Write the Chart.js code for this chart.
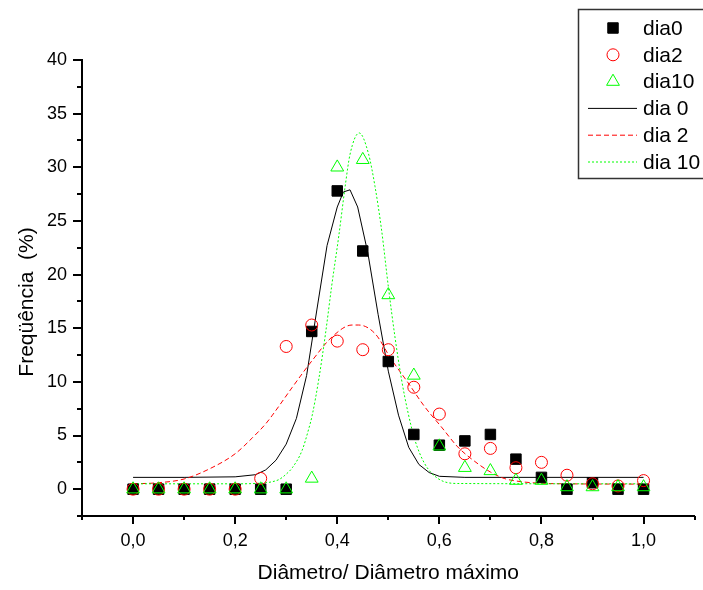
<!DOCTYPE html>
<html>
<head>
<meta charset="utf-8">
<title>Freqüência x Diâmetro</title>
<script src="https://cdn.jsdelivr.net/npm/chart.js@4.4.1/dist/chart.umd.min.js"></script>
<style>
  html, body { margin: 0; padding: 0; background: #fff; }
  .chart-wrap { width: 703px; height: 590px; }
</style>
</head>
<body>
<div class="chart-wrap"><canvas id="diameterChart" width="703" height="590"></canvas></div>
<script>
// Data ---------------------------------------------------------------------------
var diameters = [0, 0.05, 0.1, 0.15, 0.2, 0.25, 0.3, 0.35, 0.4, 0.45, 0.5,
  0.55, 0.6, 0.65, 0.7, 0.75, 0.8, 0.85, 0.9, 0.95, 1.0];
var dia0 = [0, 0, 0, 0, 0, 0, 0, 14.7, 27.8, 22.2, 11.9,
  5.1, 4.1, 4.5, 5.1, 2.8, 1.1, 0, 0.6, 0, 0];
var dia2 = [0, 0, 0, 0, 0, 1.0, 13.3, 15.3, 13.8, 13.0, 13.0,
  9.5, 7.0, 3.3, 3.8, 2.0, 2.5, 1.3, 0.5, 0.3, 0.8];
var dia10 = [0, 0, 0, 0, 0, 0, 0, 1.0, 30.0, 30.7, 18.1,
  10.6, 4.0, 2.0, 1.7, 0.8, 0.8, 0.2, 0.2, 0.2, 0.2];

// fitted curves
var fit0X = [0, 0.1, 0.2, 0.24, 0.26, 0.28, 0.3, 0.32, 0.34, 0.36, 0.38, 0.4, 0.412, 0.425,
  0.44, 0.46, 0.48, 0.5, 0.52, 0.54, 0.56, 0.58, 0.6, 0.65, 1.0];
var fit0Y = [1.1, 1.1, 1.15, 1.35, 1.8, 2.7, 4.2, 6.6, 10.6, 16.7, 22.7, 26.3, 27.7, 27.9,
  26.3, 22.0, 16.3, 11.0, 6.9, 3.9, 2.3, 1.55, 1.2, 1.1, 1.1];
var fit2X = [0, 0.05, 0.1, 0.15, 0.2, 0.234, 0.26, 0.273, 0.312, 0.351, 0.39, 0.429, 0.442,
  0.474, 0.506, 0.539, 0.571, 0.604, 0.636, 0.669, 0.7, 0.727, 0.76, 0.8, 0.85, 1.0];
var fit2Y = [0.5, 0.6, 0.95, 1.9, 3.3, 4.8, 6.1, 6.9, 9.5, 12.0, 14.2, 15.3, 15.3,
  14.5, 12.1, 9.9, 7.7, 5.8, 3.94, 2.6, 1.6, 1.0, 0.7, 0.55, 0.5, 0.47];
var fit10X = [0, 0.2, 0.26, 0.273, 0.286, 0.3, 0.312, 0.331, 0.344, 0.351, 0.364, 0.377,
  0.389, 0.403, 0.416, 0.425, 0.443, 0.461, 0.474, 0.487, 0.5, 0.513, 0.526, 0.539,
  0.552, 0.571, 0.597, 0.636, 1.0];
var fit10Y = [0.5, 0.5, 0.6, 0.7, 0.9, 1.4, 2.0, 3.6, 5.6, 6.9, 10.3, 14.5,
  18.9, 23.6, 28.4, 31.2, 33.2, 31.3, 28.2, 24.1, 18.9, 14.2, 10.2, 7.06,
  4.6, 2.4, 1.0, 0.53, 0.5];

// Ticks
var xMajorTicks = [0, 0.2, 0.4, 0.6, 0.8, 1.0];
var xMinorTicks = [-0.1, 0.1, 0.3, 0.5, 0.7, 0.9, 1.1];
var yMajorTicks = [0, 5, 10, 15, 20, 25, 30, 35, 40];
var yMinorTicks = [-2.5, 2.5, 7.5, 12.5, 17.5, 22.5, 27.5, 32.5, 37.5];

var FONT = 'Arial, "Liberation Sans", sans-serif';

function toPoints(xs, ys) {
  return xs.map(function (x, i) {
    return { x: x, y: ys[i] };
  });
}

// Axis ticks + y title
var axisExtras = {
  id: "axisExtras",
  afterDraw: function (chart) {
    var c = chart.ctx;
    var xs = chart.scales.x;
    var ys = chart.scales.y;
    var area = chart.chartArea;
    c.save();
    c.strokeStyle = "#000";
    c.lineWidth = 2;
    c.beginPath();
    xMajorTicks.concat(xMinorTicks).forEach(function (v) {
      var px = Math.round(xs.getPixelForValue(v));
      var len = xMajorTicks.indexOf(v) > -1 ? 8 : 4;
      c.moveTo(px, area.bottom);
      c.lineTo(px, area.bottom + len);
    });
    yMajorTicks.concat(yMinorTicks).forEach(function (v) {
      var py = Math.round(ys.getPixelForValue(v));
      var len = yMajorTicks.indexOf(v) > -1 ? 9 : 5;
      c.moveTo(area.left, py);
      c.lineTo(area.left - len, py);
    });
    c.stroke();

    c.translate(27, 302);
    c.rotate(-Math.PI / 2);
    c.fillStyle = "#000";
    c.font = "21px " + FONT;
    c.textAlign = "center";
    c.textBaseline = "middle";
    c.fillText("Freqüência  (%)", 0, 0);
    c.restore();
  },
};

// Legend box (top right)
var boxLegend = {
  id: "boxLegend",
  afterDraw: function (chart) {
    var c = chart.ctx;
    var sets = chart.data.datasets;
    c.save();
    c.fillStyle = "#fff";
    c.fillRect(578, 9, 130, 169);
    c.strokeStyle = "#333";
    c.lineWidth = 1.5;
    c.strokeRect(578.5, 9.5, 130, 169);

    c.font = "21px " + FONT;
    c.textAlign = "left";
    c.textBaseline = "middle";
    sets.forEach(function (ds, i) {
      var y = 28 + i * 26.8;
      if (ds.showLine) {
        c.strokeStyle = ds.borderColor;
        c.lineWidth = ds.borderWidth;
        c.setLineDash(ds.borderDash || []);
        c.beginPath();
        c.moveTo(588, y);
        c.lineTo(637, y);
        c.stroke();
        c.setLineDash([]);
      } else {
        c.fillStyle = ds.backgroundColor;
        c.strokeStyle = ds.borderColor;
        c.lineWidth = ds.borderWidth;
        Chart.helpers.drawPoint(c, {
          pointStyle: ds.pointStyle,
          radius: ds.pointRadius,
          borderWidth: ds.borderWidth,
          rotation: 0,
        }, 613, y);
      }
      c.fillStyle = "#000";
      c.fillText(ds.label, 643, y + 1);
    });
    c.restore();
  },
};

// Chart
var ctx = document.getElementById("diameterChart").getContext("2d");
var data = {
  datasets: [
    {
      label: "dia0",
      data: toPoints(diameters, dia0),
      pointStyle: "rect",
      pointRadius: 7.4,
      backgroundColor: "#000000",
      borderColor: "#000000",
      borderWidth: 1,
      order: 3,
    },
    {
      label: "dia2",
      data: toPoints(diameters, dia2),
      pointStyle: "circle",
      pointRadius: 6,
      backgroundColor: "rgba(0,0,0,0)",
      borderColor: "#FF0000",
      borderWidth: 1,
      order: 2,
    },
    {
      label: "dia10",
      data: toPoints(diameters, dia10),
      pointStyle: "triangle",
      pointRadius: 7.4,
      backgroundColor: "rgba(0,0,0,0)",
      borderColor: "#00FF00",
      borderWidth: 1,
      order: 1,
    },
    {
      label: "dia 0",
      data: toPoints(fit0X, fit0Y),
      showLine: true,
      pointRadius: 0,
      borderColor: "#000000",
      borderWidth: 1,
      order: 6,
    },
    {
      label: "dia 2",
      data: toPoints(fit2X, fit2Y),
      showLine: true,
      pointRadius: 0,
      borderColor: "#FF0000",
      borderWidth: 1,
      borderDash: [5, 3],
      cubicInterpolationMode: "monotone",
      order: 5,
    },
    {
      label: "dia 10",
      data: toPoints(fit10X, fit10Y),
      showLine: true,
      pointRadius: 0,
      borderColor: "#00FF00",
      borderWidth: 1,
      borderDash: [2, 2],
      cubicInterpolationMode: "monotone",
      order: 4,
    },
  ],
};
var options = {
  responsive: false,
  animation: false,
  events: [],
  layout: {
    padding: { top: 60, right: 5, left: 0, bottom: 0 },
  },
  plugins: {
    legend: { display: false },
    tooltip: { enabled: false },
  },
  scales: {
    x: {
      type: "linear",
      min: -0.1,
      max: 1.1,
      afterBuildTicks: function (scale) {
        scale.ticks = xMajorTicks.map(function (v) {
          return { value: v };
        });
      },
      afterFit: function (scale) {
        scale.height = 74;
      },
      ticks: {
        autoSkip: false,
        maxRotation: 0,
        color: "#000",
        padding: 6,
        font: { family: FONT, size: 18 },
        callback: function (v) {
          return Number(v).toFixed(1).replace(".", ",");
        },
      },
      grid: {
        drawOnChartArea: false,
        drawTicks: true,
        tickLength: 8,
        color: "rgba(0,0,0,0)",
      },
      border: { color: "#000", width: 2 },
      title: {
        display: true,
        text: "Diâmetro/ Diâmetro máximo",
        color: "#000",
        font: { family: FONT, size: 21 },
        padding: { top: 0, bottom: 4 },
      },
    },
    y: {
      type: "linear",
      min: -2.5,
      max: 40,
      afterBuildTicks: function (scale) {
        scale.ticks = yMajorTicks.map(function (v) {
          return { value: v };
        });
      },
      afterFit: function (scale) {
        scale.width = 82;
      },
      ticks: {
        autoSkip: false,
        color: "#000",
        padding: 6,
        font: { family: FONT, size: 18 },
        callback: function (v) {
          return String(v);
        },
      },
      grid: {
        drawOnChartArea: false,
        drawTicks: true,
        tickLength: 9,
        color: "rgba(0,0,0,0)",
      },
      border: { color: "#000", width: 2 },
      title: { display: false },
    },
  },
};
var diameterChart = new Chart(ctx, {
  type: "scatter",
  data: data,
  options: options,
  plugins: [axisExtras, boxLegend],
});
</script>
</body>
</html>
